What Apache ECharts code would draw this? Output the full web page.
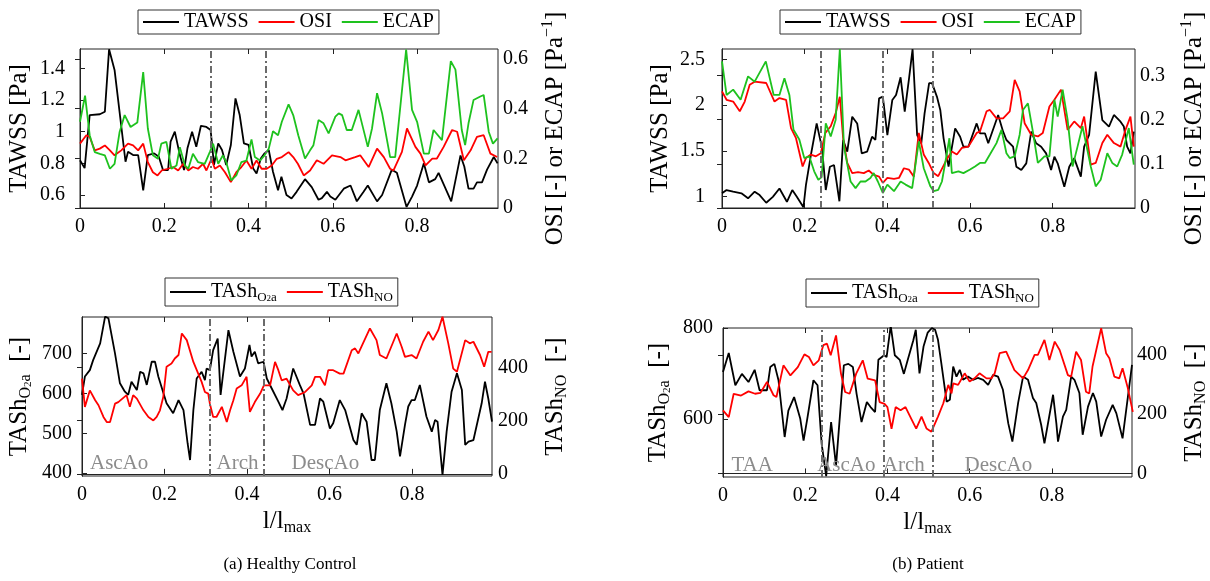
<!DOCTYPE html>
<html><head><meta charset="utf-8">
<script src="https://cdn.jsdelivr.net/npm/echarts@6/dist/echarts.min.js"></script>
<style>html,body{margin:0;padding:0;background:#fff}#c{width:1210px;height:581px}</style>
</head><body><div id="c"></div><script>
// ---------- tick labels ----------
const xTicks = [0, 0.2, 0.4, 0.6, 0.8];
const tawssTicksA = [0.6, 0.8, 1, 1.2, 1.4];
const osiTicksA = [0, 0.2, 0.4, 0.6];
const tawssTicksB = [1, 1.5, 2, 2.5];
const osiTicksB = [0, 0.1, 0.2, 0.3];
const o2TicksA = [400, 500, 600, 700];
const noTicks = [0, 200, 400];
const o2TicksB = [600, 800];

// ---------- vertical region boundaries ----------
const bordersA = [0.31, 0.44];
const bordersB = [0.24, 0.39, 0.51];
const regionsA = [['AscAo', 0.09], ['Arch', 0.377], ['DescAo', 0.59]];
const regionsB = [['TAA', 0.071], ['AscAo', 0.30], ['Arch', 0.44], ['DescAo', 0.67]];

// ---------- (a) Healthy control, top: [l/lmax, value] ----------
const tawssA = [[0,0.82],[0.011,0.77],[0.023,1.105],[0.047,1.11],[0.059,1.126],[0.069,1.52],[0.082,1.39],[0.108,0.81],[0.114,0.873],[0.126,0.852],[0.138,0.852],[0.15,0.63],[0.161,0.852],[0.176,0.863],[0.187,0.842],[0.197,0.758],[0.209,0.758],[0.215,0.937],[0.225,1.0],[0.237,0.852],[0.247,0.758],[0.255,0.895],[0.266,1.0],[0.276,0.905],[0.287,1.037],[0.3,1.03],[0.31,1.01],[0.318,0.79],[0.328,0.926],[0.337,0.884],[0.347,0.79],[0.358,0.916],[0.369,1.21],[0.379,1.105],[0.389,0.926],[0.4,0.916],[0.411,0.768],[0.419,0.736],[0.429,0.831],[0.438,0.863],[0.448,0.884],[0.458,0.747],[0.47,0.63],[0.478,0.716],[0.49,0.6],[0.502,0.578],[0.514,0.62],[0.534,0.70],[0.55,0.65],[0.566,0.57],[0.574,0.58],[0.586,0.62],[0.594,0.59],[0.606,0.57],[0.626,0.64],[0.642,0.66],[0.657,0.56],[0.673,0.62],[0.683,0.66],[0.705,0.56],[0.717,0.60],[0.74,0.76],[0.752,0.74],[0.775,0.525],[0.788,0.59],[0.8,0.66],[0.816,0.80],[0.828,0.68],[0.843,0.70],[0.851,0.74],[0.881,0.56],[0.903,0.85],[0.912,0.78],[0.922,0.64],[0.934,0.64],[0.942,0.68],[0.954,0.68],[0.966,0.76],[0.982,0.84],[0.991,0.80]];
const osiA = [[0,0.259],[0.015,0.293],[0.023,0.286],[0.035,0.232],[0.047,0.239],[0.059,0.252],[0.071,0.232],[0.082,0.212],[0.098,0.232],[0.114,0.259],[0.126,0.252],[0.138,0.232],[0.15,0.259],[0.161,0.185],[0.173,0.144],[0.184,0.131],[0.194,0.151],[0.209,0.158],[0.221,0.165],[0.233,0.151],[0.245,0.178],[0.257,0.151],[0.268,0.165],[0.28,0.158],[0.292,0.178],[0.3,0.151],[0.312,0.198],[0.32,0.158],[0.332,0.171],[0.344,0.144],[0.358,0.104],[0.371,0.144],[0.383,0.165],[0.395,0.191],[0.407,0.158],[0.419,0.191],[0.431,0.158],[0.443,0.158],[0.455,0.171],[0.467,0.198],[0.479,0.205],[0.495,0.225],[0.506,0.205],[0.517,0.178],[0.531,0.131],[0.546,0.151],[0.562,0.192],[0.578,0.178],[0.598,0.212],[0.618,0.205],[0.63,0.192],[0.653,0.205],[0.665,0.212],[0.685,0.165],[0.705,0.239],[0.721,0.205],[0.736,0.158],[0.744,0.151],[0.764,0.226],[0.776,0.32],[0.796,0.246],[0.808,0.219],[0.82,0.172],[0.836,0.199],[0.847,0.199],[0.863,0.246],[0.883,0.314],[0.895,0.307],[0.911,0.192],[0.927,0.232],[0.942,0.286],[0.958,0.293],[0.974,0.219],[0.99,0.205]];
const ecapA = [[0,0.347],[0.012,0.452],[0.023,0.293],[0.035,0.225],[0.047,0.218],[0.059,0.212],[0.071,0.158],[0.082,0.178],[0.094,0.306],[0.106,0.374],[0.12,0.326],[0.136,0.344],[0.15,0.547],[0.161,0.32],[0.173,0.212],[0.185,0.198],[0.193,0.259],[0.205,0.266],[0.217,0.158],[0.229,0.171],[0.237,0.245],[0.249,0.171],[0.257,0.158],[0.268,0.218],[0.28,0.185],[0.296,0.178],[0.308,0.225],[0.316,0.259],[0.328,0.178],[0.339,0.212],[0.347,0.185],[0.359,0.111],[0.371,0.131],[0.383,0.185],[0.395,0.191],[0.407,0.276],[0.415,0.205],[0.427,0.191],[0.438,0.212],[0.448,0.239],[0.458,0.309],[0.47,0.293],[0.479,0.347],[0.495,0.417],[0.506,0.374],[0.518,0.293],[0.534,0.199],[0.546,0.232],[0.554,0.253],[0.566,0.354],[0.578,0.341],[0.59,0.30],[0.606,0.368],[0.614,0.381],[0.622,0.374],[0.633,0.314],[0.645,0.314],[0.661,0.395],[0.683,0.246],[0.693,0.32],[0.705,0.462],[0.717,0.381],[0.736,0.205],[0.748,0.205],[0.774,0.638],[0.788,0.395],[0.8,0.347],[0.816,0.219],[0.828,0.219],[0.839,0.314],[0.859,0.273],[0.88,0.591],[0.891,0.557],[0.906,0.314],[0.914,0.253],[0.922,0.341],[0.934,0.435],[0.95,0.449],[0.958,0.455],[0.97,0.307],[0.98,0.259],[0.991,0.28]];

// ---------- (b) Patient, top ----------
const tawssB = [[0,1.037],[0.011,1.073],[0.027,1.055],[0.047,1.037],[0.063,0.983],[0.079,1.055],[0.091,1.018],[0.107,0.934],[0.123,0.999],[0.139,1.09],[0.157,0.945],[0.17,1.073],[0.181,0.999],[0.197,0.885],[0.203,1.127],[0.215,1.455],[0.229,1.8],[0.242,1.528],[0.251,1.073],[0.261,1.327],[0.271,1.346],[0.284,0.95],[0.293,1.62],[0.303,1.491],[0.315,1.873],[0.327,1.8],[0.338,1.474],[0.351,1.491],[0.363,1.655],[0.371,1.62],[0.38,2.074],[0.389,2.092],[0.4,1.673],[0.412,2.056],[0.421,2.11],[0.432,2.303],[0.442,1.928],[0.452,2.274],[0.461,2.61],[0.472,1.673],[0.482,1.583],[0.49,1.91],[0.501,2.24],[0.508,2.24],[0.52,2.09],[0.528,1.947],[0.536,1.637],[0.548,1.328],[0.564,1.746],[0.576,1.655],[0.584,1.546],[0.596,1.546],[0.616,1.80],[0.624,1.692],[0.636,1.692],[0.644,1.583],[0.668,1.892],[0.68,1.71],[0.688,1.619],[0.704,1.546],[0.712,1.328],[0.724,1.291],[0.736,1.364],[0.748,1.71],[0.76,1.583],[0.772,1.546],[0.784,1.473],[0.796,1.291],[0.804,1.437],[0.812,1.364],[0.828,1.109],[0.84,1.328],[0.852,1.419],[0.868,1.219],[0.876,1.546],[0.888,1.674],[0.904,2.365],[0.92,1.837],[0.936,1.765],[0.948,1.892],[0.964,1.819],[0.972,1.765],[0.98,1.546],[0.988,1.473],[0.996,1.71]];
const osiB = [[0,0.264],[0.011,0.245],[0.027,0.241],[0.043,0.219],[0.055,0.241],[0.067,0.279],[0.079,0.286],[0.107,0.283],[0.127,0.241],[0.139,0.249],[0.155,0.245],[0.167,0.181],[0.179,0.158],[0.195,0.094],[0.203,0.113],[0.215,0.121],[0.227,0.117],[0.239,0.124],[0.25,0.17],[0.263,0.185],[0.275,0.215],[0.285,0.252],[0.293,0.158],[0.303,0.102],[0.315,0.079],[0.329,0.081],[0.343,0.079],[0.355,0.085],[0.367,0.075],[0.38,0.071],[0.389,0.057],[0.4,0.068],[0.416,0.066],[0.428,0.068],[0.44,0.09],[0.452,0.087],[0.464,0.071],[0.476,0.17],[0.488,0.121],[0.50,0.102],[0.512,0.079],[0.523,0.072],[0.543,0.109],[0.556,0.128],[0.568,0.121],[0.58,0.136],[0.596,0.139],[0.616,0.17],[0.624,0.173],[0.64,0.219],[0.648,0.222],[0.664,0.203],[0.68,0.203],[0.696,0.219],[0.708,0.29],[0.72,0.264],[0.732,0.192],[0.748,0.166],[0.764,0.162],[0.776,0.17],[0.792,0.23],[0.804,0.245],[0.82,0.268],[0.836,0.177],[0.852,0.196],[0.868,0.181],[0.876,0.207],[0.892,0.098],[0.904,0.102],[0.92,0.147],[0.932,0.166],[0.948,0.147],[0.964,0.139],[0.976,0.177],[0.988,0.207],[0.996,0.139]];
const ecapB = [[0,0.332],[0.011,0.256],[0.027,0.268],[0.045,0.245],[0.063,0.298],[0.079,0.286],[0.106,0.332],[0.125,0.256],[0.139,0.256],[0.151,0.294],[0.163,0.256],[0.173,0.177],[0.187,0.155],[0.199,0.113],[0.211,0.117],[0.223,0.083],[0.233,0.064],[0.241,0.07],[0.251,0.192],[0.263,0.162],[0.275,0.2],[0.285,0.36],[0.295,0.139],[0.311,0.06],[0.323,0.045],[0.335,0.06],[0.347,0.06],[0.359,0.068],[0.367,0.079],[0.377,0.06],[0.389,0.034],[0.4,0.053],[0.416,0.038],[0.432,0.06],[0.444,0.053],[0.46,0.045],[0.476,0.151],[0.488,0.09],[0.504,0.049],[0.512,0.038],[0.523,0.041],[0.532,0.06],[0.544,0.124],[0.55,0.158],[0.556,0.079],[0.572,0.083],[0.584,0.079],[0.60,0.087],[0.612,0.094],[0.624,0.102],[0.636,0.102],[0.648,0.121],[0.664,0.147],[0.676,0.177],[0.688,0.124],[0.696,0.113],[0.708,0.117],[0.72,0.166],[0.728,0.222],[0.74,0.237],[0.752,0.173],[0.764,0.102],[0.78,0.117],[0.792,0.117],[0.804,0.245],[0.812,0.207],[0.824,0.268],[0.836,0.20],[0.848,0.094],[0.86,0.139],[0.872,0.185],[0.892,0.094],[0.904,0.049],[0.916,0.064],[0.932,0.124],[0.944,0.102],[0.956,0.094],[0.968,0.121],[0.984,0.181],[0.996,0.098]];

// ---------- (a) Healthy control, bottom ----------
const o2A = [[0,596],[0.007,642],[0.019,658],[0.027,683],[0.044,725],[0.056,792],[0.064,788],[0.08,700],[0.092,625],[0.104,604],[0.112,596],[0.12,629],[0.133,608],[0.141,654],[0.149,650],[0.157,621],[0.169,679],[0.177,679],[0.185,642],[0.205,575],[0.221,550],[0.234,583],[0.246,558],[0.256,475],[0.262,433],[0.27,558],[0.278,637],[0.29,654],[0.298,633],[0.302,662],[0.31,658],[0.318,708],[0.329,737],[0.336,596],[0.355,758],[0.367,704],[0.383,642],[0.395,662],[0.406,721],[0.411,692],[0.419,704],[0.427,675],[0.44,679],[0.448,637],[0.46,612],[0.476,579],[0.486,558],[0.496,587],[0.504,625],[0.512,662],[0.528,621],[0.537,600],[0.553,521],[0.565,521],[0.577,587],[0.585,579],[0.601,512],[0.609,525],[0.625,583],[0.638,558],[0.658,483],[0.666,471],[0.678,550],[0.69,529],[0.702,433],[0.71,433],[0.722,558],[0.738,625],[0.75,575],[0.763,504],[0.771,442],[0.783,521],[0.791,567],[0.799,583],[0.807,583],[0.819,621],[0.835,542],[0.848,504],[0.856,533],[0.862,529],[0.874,396],[0.884,504],[0.896,604],[0.909,650],[0.921,608],[0.929,471],[0.937,479],[0.949,483],[0.969,575],[0.977,629],[0.985,587],[0.994,529]];
const noA = [[0,358],[0.007,252],[0.019,314],[0.032,277],[0.04,258],[0.052,214],[0.06,195],[0.068,195],[0.08,264],[0.088,270],[0.108,296],[0.116,252],[0.124,296],[0.133,283],[0.149,239],[0.161,214],[0.173,201],[0.181,214],[0.189,239],[0.197,289],[0.205,403],[0.217,415],[0.225,434],[0.234,447],[0.242,528],[0.244,535],[0.254,503],[0.27,421],[0.29,346],[0.298,308],[0.306,302],[0.31,264],[0.318,214],[0.326,214],[0.339,252],[0.351,195],[0.359,239],[0.367,277],[0.375,321],[0.387,333],[0.399,365],[0.407,233],[0.419,270],[0.432,302],[0.441,333],[0.456,333],[0.468,421],[0.476,390],[0.484,352],[0.496,358],[0.512,314],[0.524,296],[0.541,308],[0.557,333],[0.565,365],[0.577,365],[0.589,333],[0.597,390],[0.609,390],[0.625,377],[0.634,377],[0.654,465],[0.662,472],[0.67,453],[0.698,547],[0.714,503],[0.722,447],[0.738,434],[0.763,528],[0.775,478],[0.783,440],[0.799,447],[0.811,434],[0.827,497],[0.84,535],[0.851,503],[0.864,541],[0.874,591],[0.888,491],[0.90,396],[0.909,384],[0.929,503],[0.94,491],[0.949,497],[0.965,447],[0.975,403],[0.985,459],[0.993,459]];

// ---------- (b) Patient, bottom ----------
const o2B = [[0,703],[0.014,745],[0.03,674],[0.046,699],[0.062,681],[0.077,708],[0.089,663],[0.107,663],[0.115,714],[0.125,721],[0.135,685],[0.15,560],[0.159,618],[0.173,648],[0.188,600],[0.196,552],[0.205,600],[0.22,685],[0.23,674],[0.24,545],[0.251,474],[0.263,593],[0.275,497],[0.294,718],[0.305,721],[0.316,714],[0.325,655],[0.337,593],[0.35,637],[0.359,626],[0.37,615],[0.378,730],[0.392,740],[0.398,736],[0.408,805],[0.418,740],[0.43,730],[0.44,699],[0.45,732],[0.463,773],[0.469,796],[0.478,700],[0.488,760],[0.498,790],[0.508,800],[0.516,796],[0.523,774],[0.531,723],[0.544,638],[0.552,642],[0.56,715],[0.568,693],[0.576,708],[0.584,686],[0.596,693],[0.608,686],[0.62,690],[0.633,686],[0.645,675],[0.657,697],[0.669,693],[0.681,664],[0.694,590],[0.704,550],[0.718,635],[0.73,693],[0.742,686],[0.754,646],[0.762,635],[0.774,587],[0.782,546],[0.803,653],[0.811,590],[0.815,550],[0.827,605],[0.835,620],[0.847,693],[0.855,686],[0.867,657],[0.875,565],[0.888,627],[0.90,657],[0.908,638],[0.92,561],[0.932,598],[0.948,631],[0.957,612],[0.972,557],[0.995,719]];
const noB = [[0,213],[0.014,190],[0.026,269],[0.044,263],[0.062,277],[0.078,269],[0.091,272],[0.107,309],[0.123,264],[0.13,258],[0.147,365],[0.164,331],[0.182,359],[0.198,402],[0.209,393],[0.22,365],[0.233,382],[0.244,433],[0.253,438],[0.262,399],[0.275,466],[0.287,337],[0.297,275],[0.308,269],[0.324,337],[0.34,382],[0.352,320],[0.37,314],[0.381,241],[0.393,235],[0.40,224],[0.41,151],[0.42,224],[0.432,213],[0.444,224],[0.456,190],[0.47,151],[0.483,192],[0.495,152],[0.507,141],[0.511,135],[0.523,192],[0.536,237],[0.548,299],[0.556,270],[0.56,304],[0.572,299],[0.588,338],[0.60,310],[0.612,321],[0.624,338],[0.641,321],[0.653,321],[0.661,338],[0.673,406],[0.689,411],[0.709,349],[0.73,321],[0.742,349],[0.758,400],[0.766,400],[0.782,451],[0.794,383],[0.807,445],[0.819,417],[0.839,332],[0.847,327],[0.859,411],[0.871,383],[0.883,276],[0.891,270],[0.899,361],[0.92,490],[0.932,406],[0.94,389],[0.952,327],[0.964,321],[0.972,355],[0.984,293],[0.997,208]];

// ---------- styling helpers ----------
const F = '"Liberation Serif", "DejaVu Serif", serif';
const BLACK = '#000000', RED = '#ff0000', GREEN = '#1ec21e';
const rich = {
  m: {fontFamily: F, fontSize: 25, lineHeight: 30, color: '#000'},
  s: {fontFamily: F, fontSize: 16, lineHeight: 16, padding: [14, 0, 0, 0], color: '#000'},
  ss: {fontFamily: F, fontSize: 11, lineHeight: 11, padding: [18, 0, 0, 0], color: '#000'},
  p: {fontFamily: F, fontSize: 16, lineHeight: 16, padding: [0, 0, 14, 0], color: '#000'}
};
const lrich = {
  m: {fontFamily: F, fontSize: 20, lineHeight: 24, color: '#000'},
  s: {fontFamily: F, fontSize: 13, lineHeight: 13, padding: [11, 0, 0, 0], color: '#000'},
  ss: {fontFamily: F, fontSize: 9, lineHeight: 9, padding: [14, 0, 0, 0], color: '#000'}
};
const legendText = {
  'TAWSS': '{m|TAWSS}', 'OSI': '{m|OSI}', 'ECAP': '{m|ECAP}',
  'TASh_O2a': '{m|TASh}{s|O}{ss|2}{s|a}', 'TASh_NO': '{m|TASh}{s|NO}'
};

const grids = [
  {left: 80, top: 49, width: 418, height: 159},
  {left: 722, top: 49, width: 416, height: 159},
  {left: 82, top: 317, width: 410, height: 159},
  {left: 723, top: 328, width: 410, height: 149}
].map(g => Object.assign(g, {show: true, borderColor: '#222', borderWidth: 1, backgroundColor: '#fff'}));
const xMax = [0.992, 0.999, 0.994, 0.995];

const tick = (vals) => ({inside: true, length: 5, customValues: vals, lineStyle: {color: '#222'}});
const lab = (vals, margin) => ({customValues: vals, margin: margin, fontFamily: F, fontSize: 20, color: '#000'});

const xAxes = [];
for (let i = 0; i < 4; i++) {
  const ax = {type: 'value', gridIndex: i, min: 0, max: xMax[i], position: 'bottom',
    axisLine: {show: true, lineStyle: {color: '#222'}}, axisTick: tick(xTicks),
    axisLabel: lab(xTicks, 9), splitLine: {show: false}};
  if (i >= 2) {
    ax.name = '{m|l/l}{s|max}';
    ax.nameLocation = 'middle';
    ax.nameGap = 30;
    ax.nameTextStyle = {rich: rich, verticalAlign: 'top'};
  }
  xAxes.push(ax);
}
for (let i = 0; i < 4; i++) {
  xAxes.push({type: 'value', gridIndex: i, min: 0, max: xMax[i], position: 'top',
    axisLine: {show: false}, axisTick: tick(xTicks), axisLabel: {show: false}, splitLine: {show: false}});
}

function yAx(grid, pos, min, max, vals, margin, name, gap) {
  return {type: 'value', gridIndex: grid, position: pos, min: min, max: max,
    axisLine: {show: true, lineStyle: {color: '#222'}}, axisTick: tick(vals),
    axisLabel: lab(vals, margin), splitLine: {show: false},
    name: name, nameLocation: 'middle', nameRotate: 90, nameGap: gap,
    nameTextStyle: {rich: rich}};
}
const nameTAWSS = '{m|TAWSS [Pa]}';
const nameOSI = '{m|OSI [-] or ECAP [Pa}{p|\u22121}{m|]}';
const nameO2 = '{m|TASh}{s|O}{ss|2}{s|a}{m|  [-]}';
const nameNO = '{m|TASh}{s|NO}{m|  [-]}';
const yAxes = [
  yAx(0, 'left', 0.518, 1.522, tawssTicksA, 15, nameTAWSS, 46),
  yAx(0, 'right', 0, 0.64, osiTicksA, 5, nameOSI, 42),
  yAx(1, 'left', 0.877, 2.612, tawssTicksB, 17, nameTAWSS, 47),
  yAx(1, 'right', 0, 0.36, osiTicksB, 5, nameOSI, 44),
  yAx(2, 'left', 393, 791, o2TicksA, 10, nameO2, 48),
  yAx(2, 'right', -8, 590, noTicks, 6, nameNO, 48),
  yAx(3, 'left', 472, 800, o2TicksB, 10, nameO2, 50),
  yAx(3, 'right', -12, 491, noTicks, 5, nameNO, 47)
];

const borderLine = (xs) => ({silent: true, symbol: ['none', 'none'], label: {show: false},
  lineStyle: {color: '#6a6a6a', type: [7, 3, 2, 3], width: 2}, emphasis: {disabled: true},
  data: xs.map(v => ({xAxis: v}))});
const regionPts = (regs, yv) => ({silent: true, symbol: 'circle', symbolSize: 0,
  label: {show: true, position: 'inside', formatter: '{b}', color: '#8c8c8c', fontFamily: F, fontSize: 21},
  data: regs.map(r => ({name: r[0], coord: [r[1], yv]}))});

function line(name, data, xi, yi, color, extra) {
  return Object.assign({type: 'line', name: name, data: data, xAxisIndex: xi, yAxisIndex: yi,
    symbol: 'none', animation: false, lineStyle: {color: color, width: 1.8}, itemStyle: {color: color}}, extra || {});
}

const series = [
  line('TAWSS', tawssA, 0, 0, BLACK, {markLine: borderLine(bordersA)}),
  line('OSI', osiA, 0, 1, RED),
  line('ECAP', ecapA, 0, 1, GREEN),
  line('TAWSS', tawssB, 1, 2, BLACK, {markLine: borderLine(bordersB)}),
  line('OSI', osiB, 1, 3, RED),
  line('ECAP', ecapB, 1, 3, GREEN),
  line('TASh_O2a', o2A, 2, 4, BLACK, {markLine: borderLine(bordersA), markPoint: regionPts(regionsA, 425)}),
  line('TASh_NO', noA, 2, 5, RED),
  line('TASh_O2a', o2B, 3, 6, BLACK, {markLine: borderLine(bordersB), markPoint: regionPts(regionsB, 498)}),
  line('TASh_NO', noB, 3, 7, RED)
];

const legBase = {orient: 'horizontal', icon: 'rect', itemWidth: 36, itemHeight: 2, itemGap: 10, padding: [2, 5],
  borderColor: '#333', borderWidth: 1, backgroundColor: '#fff', selectedMode: false,
  formatter: n => legendText[n], textStyle: {fontFamily: F, fontSize: 20, color: '#000', rich: lrich}};
const legends = [
  Object.assign({left: 138, top: 10, data: ['TAWSS', 'OSI', 'ECAP']}, legBase),
  Object.assign({left: 780, top: 10, data: ['TAWSS', 'OSI', 'ECAP']}, legBase),
  Object.assign({left: 165, top: 278, data: ['TASh_O2a', 'TASh_NO']}, legBase),
  Object.assign({left: 806, top: 279, data: ['TASh_O2a', 'TASh_NO']}, legBase)
];

const chart = echarts.init(document.getElementById('c'), null, {renderer: 'canvas'});
chart.setOption({
  backgroundColor: '#fff',
  animation: false,
  grid: grids,
  xAxis: xAxes,
  yAxis: yAxes,
  legend: legends,
  series: series,
  graphic: [
    {type: 'text', x: 290, y: 565, style: {text: '(a) Healthy Control', font: '17px "Liberation Serif"', fill: '#000', align: 'center', verticalAlign: 'middle'}},
    {type: 'text', x: 928, y: 565, style: {text: '(b) Patient', font: '17px "Liberation Serif"', fill: '#000', align: 'center', verticalAlign: 'middle'}}
  ]
});
</script></body></html>
